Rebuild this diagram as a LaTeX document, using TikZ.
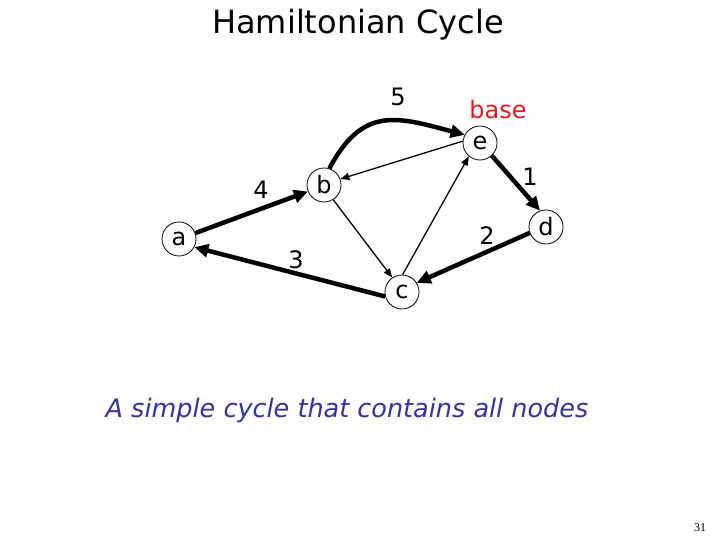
\documentclass[tikz,border=0pt]{standalone}
\usepackage{fontspec}
\setmainfont{DejaVu Sans}
\newfontfamily\pagenumfont{Liberation Serif}
\usetikzlibrary{arrows.meta}
\definecolor{basered}{RGB}{222,28,36}
\definecolor{noteblue}{RGB}{51,51,153}
\tikzset{
  vertex/.style={draw, circle, line width=0.8bp, minimum size=34bp, inner sep=0pt,
                 font=\fontsize{24bp}{28bp}\selectfont},
  weight/.style={font=\fontsize{24bp}{28bp}\selectfont},
  tour/.style={-{Triangle[length=14bp,width=13bp]}, line width=4.5bp},
  chord/.style={-{Triangle[length=9bp,width=7bp]}, line width=1.3bp},
}

\begin{document}
\begin{tikzpicture}[x=1bp,y=1bp]
        \useasboundingbox[fill=white] (0,0) rectangle (720,540);
        \node[font=\fontsize{32bp}{38bp}\selectfont](title) at (358,515){Hamiltonian Cycle};
        % vertices
        \node[vertex](a) at (179,301){a};
        \node[vertex](b) at (324,355){b};
        \node[vertex](e) at (480,397){e};
        \node[vertex](d) at (546,313){d};
        \node[vertex](c) at (402,248){c};
        \node[weight,text=basered](baselabel) at (498,430){base};
        % the cycle
        \draw[tour](a.20)--(b.202);
        \draw[tour](b.72) to[out=62,in=165,looseness=1.3] (e.152);
        \draw[tour](e.-47)--(d.110);
        \draw[tour](d.200)--(c.32);
        \draw[tour](c.195)--(a.-28);
        \draw[chord](e.174)--(b.20); \draw[chord](b.-58)--(c.124); \draw[chord](c.88)--(e.230);
        % order of the edges
        \node[weight](w1) at (530,363){1};
        \node[weight](w2) at (487,304){2};
        \node[weight](w3) at (296,280){3};
        \node[weight](w4) at (261,350){4};
        \node[weight](w5) at (398,443){5};
        \node[font=\fontsize{25.5bp}{30bp}\selectfont\itshape,text=noteblue](note) at (347,130)
          {A simple cycle that contains all nodes};
        \node[font=\pagenumfont\fontsize{12bp}{14bp}\selectfont](pagenum) at (700,12){31};
      \end{tikzpicture}
\end{document}
